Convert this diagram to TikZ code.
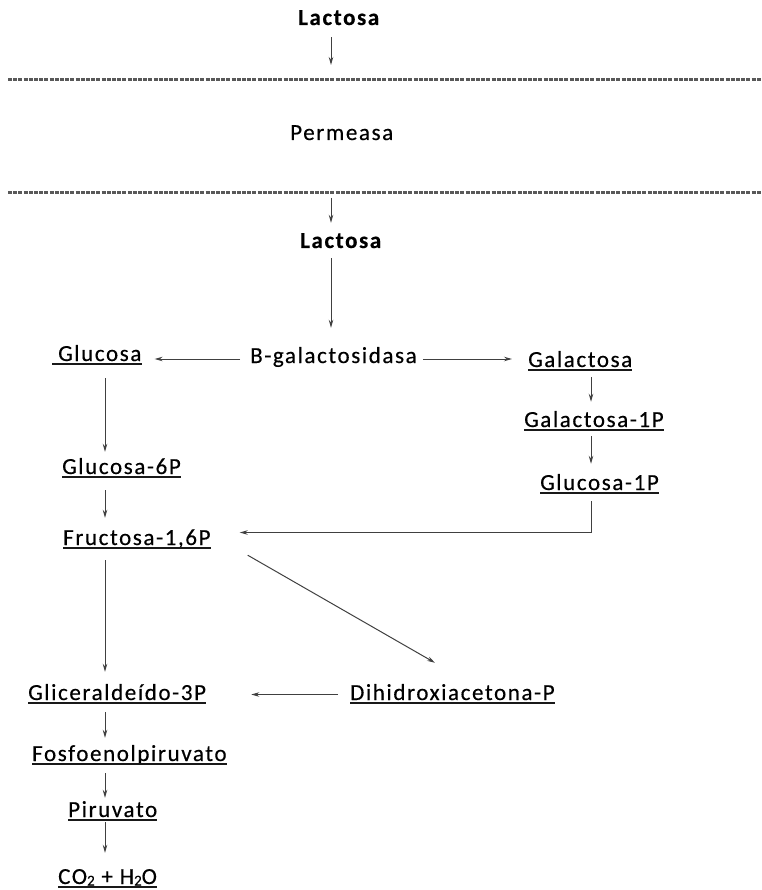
\documentclass[tikz,border=0pt]{standalone}
\usepackage{fontspec}
\setmainfont{Carlito}[LetterSpace=7,FakeBold=0.4]
\usetikzlibrary{arrows.meta}
\newcommand\subtwo{{\fontsize{15}{15}\selectfont\raisebox{-1.5pt}{2}}}
\begin{document}
\begin{tikzpicture}[x=1pt,y=-1pt,
  lbl/.style={inner sep=0pt,anchor=base west,text height=16pt,text depth=5pt,
    font=\fontsize{23}{27}\selectfont,text=black},
  ul/.style={lbl,append after command={
    (\tikzlastnode.base west) ++(0,-3.2pt) edge[draw=black!90,line width=1.8pt]
    ([yshift=-3.2pt]\tikzlastnode.base east)}},
  arr/.style={draw=black!75,line width=1pt,-{Stealth[length=8pt,width=4.5pt]}},
  membrane/.style={draw=black!65,line width=3pt,dash pattern=on 4pt off 1.2pt}]
\useasboundingbox (0,0) rectangle (761,890);
% columns and membrane points
\coordinate (colM) at (331,0);
\coordinate (colL) at (105,0);
\coordinate (colR) at (591,0);
\coordinate (m1L) at (8,80);  \coordinate (m1R) at (761,80);
\coordinate (m2L) at (8,193); \coordinate (m2R) at (761,193);
\coordinate (m1) at (331,65);
\coordinate (m2) at (331,198);
% membranes
\draw[membrane] (m1L) -- (m1R);
\draw[membrane] (m2L) -- (m2R);
% nodes
\node[lbl,font=\fontsize{23}{27}\selectfont\bfseries] (lac1) at (298,25) {Lactosa};
\node[lbl] (perm) at (290,140) {Permeasa};
\node[lbl,font=\fontsize{23}{27}\selectfont\bfseries] (lac2) at (300,248) {Lactosa};
\node[lbl] (bgal) at (250,363) {B-galactosidasa};
\node[lbl] (glu) at (58,361) {Glucosa};
\draw[draw=black!90,line width=1.8pt] ([xshift=-6pt,yshift=-3.2pt]glu.base west) -- ([yshift=-3.2pt]glu.base east);
\node[ul] (gal) at (528,367) {Galactosa};
\node[ul] (gal1p) at (524,427) {Galactosa-1P};
\node[ul] (g1p) at (540,490) {Glucosa-1P};
\node[ul] (g6p) at (62,474) {Glucosa-6P};
\node[ul] (fru) at (63,545) {Fructosa-1,6P};
\node[ul] (glic) at (28,700) {Gliceraldeído-3P};
\node[ul] (dhap) at (350,700) {Dihidroxiacetona-P};
\node[ul] (fos) at (32,761) {Fosfoenolpiruvato};
\node[ul] (pir) at (68,817) {Piruvato};
\node[ul] (co2) at (58,884) {CO\subtwo{} + H\subtwo{}O};
% helper points
\coordinate (bgW) at ([xshift=-10pt,yshift=-1.5pt]bgal.west);
\coordinate (bgE) at ([xshift=6pt,yshift=-1.5pt]bgal.east);
% connectors
\draw[arr] ([yshift=-7pt]lac1.south -| colM) -- (m1);
\draw[arr] (m2) -- ([yshift=9pt]lac2.north -| colM);
\draw[arr] ([yshift=-5pt]lac2.south -| colM) -- ([yshift=19pt]bgal.north -| colM);
\draw[arr] (bgW) -- ([xshift=13pt]glu.east |- bgW);
\draw[arr] (bgE) -- ([xshift=-16pt]gal.west |- bgE);
\draw[arr] ([yshift=-12pt]glu.south -| colL) -- ([yshift=6pt]g6p.north -| colL);
\draw[arr] ([yshift=-11pt]g6p.south -| colL) -- ([yshift=11pt]fru.north -| colL);
\draw[arr] ([yshift=-10pt]fru.south -| colL) -- ([yshift=12pt]glic.north -| colL);
\draw[arr] ([yshift=-7pt]glic.south -| colL) -- ([yshift=7pt]fos.north -| colL);
\draw[arr] ([yshift=-7pt]fos.south -| colL) -- ([yshift=3pt]pir.north -| colL);
\draw[arr] ([yshift=0pt]pir.south -| colL) -- ([yshift=15pt]co2.north -| colL);
\draw[arr] ([yshift=-5pt]gal.south -| colR) -- ([yshift=9pt]gal1p.north -| colR);
\draw[arr] ([yshift=-4pt]gal1p.south -| colR) -- ([yshift=10pt]g1p.north -| colR);
\draw[arr] ([yshift=-6pt]g1p.south -| colR) |- ([xshift=29pt,yshift=7pt]fru.east);
\draw[arr] ([xshift=37pt,yshift=-5pt]fru.south east) -- ([xshift=85pt,yshift=21pt]dhap.north west);
\draw[arr] ([xshift=-12pt]dhap.west) -- ([xshift=45pt]glic.east |- dhap.west);
\end{tikzpicture}
\end{document}
